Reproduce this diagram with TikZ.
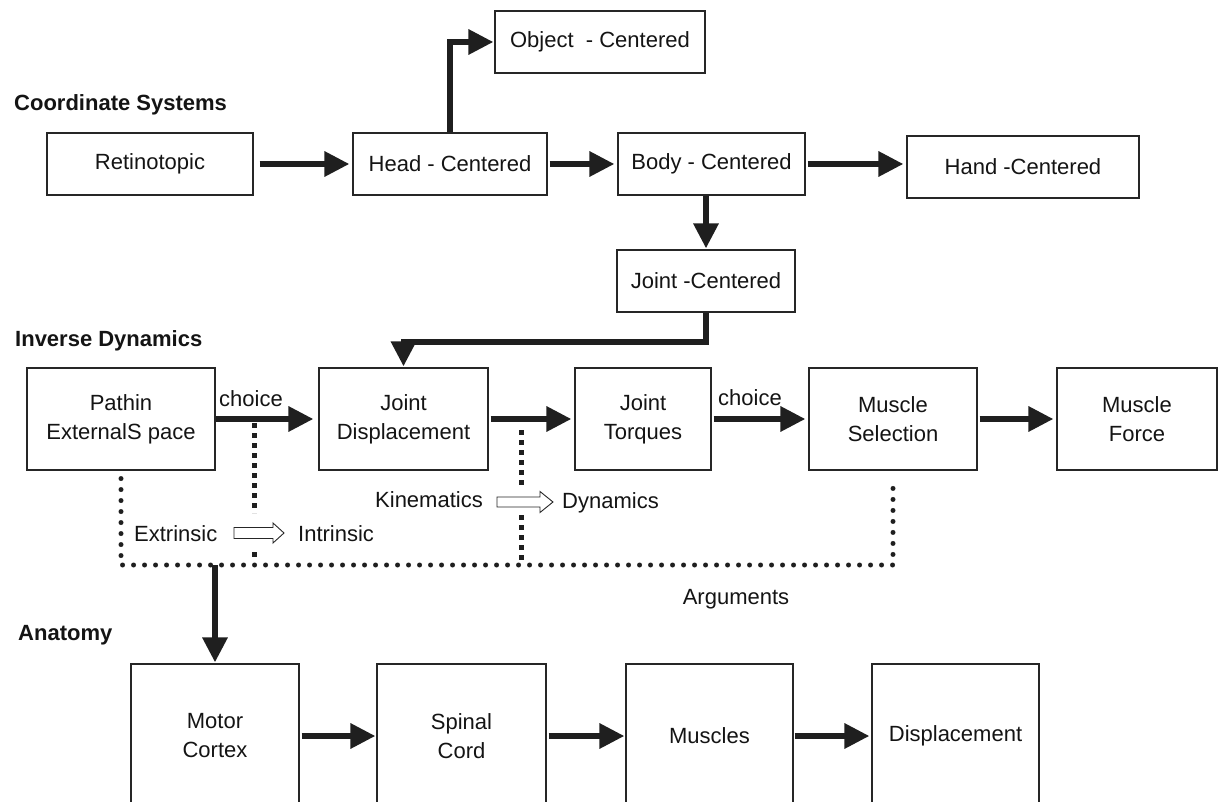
\documentclass[tikz,border=0pt]{standalone}
\usepackage{fontspec}
\setmainfont{Liberation Sans}
\usetikzlibrary{arrows.meta}
\begin{document}
\begin{tikzpicture}[x=1pt,y=-1pt,
  box/.style={draw=black!85, line width=1.1pt, inner sep=0pt, align=center,
    text=black!92, font=\fontsize{22}{29}\selectfont},
  lbl/.style={inner sep=0pt, text=black!92, font=\fontsize{22}{29}\selectfont,
    text height=15.7pt, text depth=0pt},
  seclbl/.style={lbl, font=\fontsize{22}{29}\selectfont\bfseries, anchor=west},
  arr/.style={line width=6pt, draw=black!88,
    -{Triangle[length=25pt,width=24pt]}, shorten <=2pt, shorten >=3pt},
  rdots/.style={line width=5pt, draw=black!88, line cap=round,
    dash pattern=on 0pt off 11pt},
  sdots/.style={line width=5pt, draw=black!88, dash pattern=on 5pt off 5pt},
  hollowA/.pic={\draw[line width=0.9pt, fill=white, draw=black!85]
    (0,5.5) -- (39,5.5) -- (39,10) -- (50,0) -- (39,-10) -- (39,-5.5) -- (0,-5.5) -- cycle;},
  hollowB/.pic={\draw[line width=0.9pt, fill=white, draw=black!85]
    (0,5) -- (43,5) -- (43,10.5) -- (56,0) -- (43,-10.5) -- (43,-5) -- (0,-5) -- cycle;}
]
\useasboundingbox[fill=white] (0,0) rectangle (1219,802);

% section labels
\node[seclbl] (lcs) at (14,103) {Coordinate Systems};
\node[seclbl] (lid) at (15,339) {Inverse Dynamics};
\node[seclbl] (lan) at (18,633) {Anatomy};

% coordinate systems row
\node[box, minimum width=210pt, minimum height=62pt] (obj)  at (600,42)   {Object~~- Centered};
\node[box, minimum width=206pt, minimum height=62pt] (ret)  at (150,164)  {Retinotopic};
\node[box, minimum width=194pt, minimum height=62pt] (head) at (450,164)  {Head - Centered};
\node[box, minimum width=187pt, minimum height=62pt] (body) at (711.5,164){Body - Centered};
\node[box, minimum width=232pt, minimum height=62pt] (hand) at (1023,167) {Hand -Centered};
\node[box, minimum width=178pt, minimum height=62pt] (jc)   at (706,281)  {Joint -Centered};

% inverse dynamics row
\node[box, minimum width=188pt, minimum height=102pt] (path) at (121,419)   {Pathin\\ExternalS pace};
\node[box, minimum width=169pt, minimum height=102pt] (jd)   at (403.5,419) {Joint\\Displacement};
\node[box, minimum width=136pt, minimum height=102pt] (jt)   at (643,419)   {Joint\\Torques};
\node[box, minimum width=168pt, minimum height=102pt] (ms)   at (893,419)   {Muscle\\Selection};
\node[box, minimum width=160pt, minimum height=102pt] (mf)   at (1137,419)  {Muscle\\Force};

% anatomy row (boxes run past the lower edge)
\node[box, minimum width=168pt, minimum height=144pt] (mc)   at (215,736)   {Motor\\Cortex};
\node[box, minimum width=169pt, minimum height=144pt] (sc)   at (461.5,736) {Spinal\\Cord};
\node[box, minimum width=167pt, minimum height=144pt] (mu)   at (709.5,736) {Muscles};
\node[box, minimum width=167pt, minimum height=144pt] (disp) at (955.5,736) {Displacement};

% text labels
\node[lbl] (ch1) at (251,399) {choice};
\node[lbl] (ch2) at (750,398) {choice};
\node[lbl, anchor=west] (extr) at (134,534) {Extrinsic};
\node[lbl, anchor=west] (intr) at (298,534) {Intrinsic};
\node[lbl, anchor=west] (kin)  at (375,500) {Kinematics};
\node[lbl, anchor=west] (dyn)  at (562,501) {Dynamics};
\node[lbl] (args) at (736,597) {Arguments};

% coordinates for the argument lines
\coordinate (argL) at (121,565);
\coordinate (argR) at (893,565);
\coordinate (d1a) at (254,423);
\coordinate (d1b) at (254,513);
\coordinate (d1c) at (254,552);
\coordinate (d1d) at (254,558);
\coordinate (d2a) at (521,430);
\coordinate (d2b) at (521,487);
\coordinate (d2c) at (521,515);
\coordinate (d2d) at (521,560);

% dotted argument lines
\draw[rdots] ([yshift=-8pt]path.south) -- (argL) -- (argR) -- ([yshift=-8pt]ms.south);
\draw[sdots] (d1a) -- (d1b);
\draw[sdots] (d1c) -- (d1d);
\draw[sdots] (d2a) -- (d2b);
\draw[sdots] (d2c) -- (d2d);

% hollow arrows
\pic at (234,533) {hollowA};
\pic at (497,502) {hollowB};

% arrows: coordinate systems
\draw[arr, shorten <=6pt] (ret) -- (head);
\draw[arr, shorten <=0pt, shorten >=1pt] (head.north) |- (obj.west);
\draw[arr] (head) -- (body);
\draw[arr] (body.east) -- (hand.west |- body.east);
\draw[arr, shorten <=0pt, shorten >=1pt] (body.south -| jc.north) -- (jc.north);
\draw[arr, shorten <=0pt, shorten >=1pt] (jc.south) -- ++(0,29) -| (jd.north);

% arrows: inverse dynamics
\draw[arr, shorten <=0pt, shorten >=5pt] (path) -- (jd);
\draw[arr] (jd) -- (jt);
\draw[arr] (jt) -- (ms);
\draw[arr] (ms) -- (mf);

% arrows: anatomy
\draw[arr, shorten <=0pt, shorten >=1pt] (mc.north |- argL) -- (mc.north);
\draw[arr, shorten >=1pt] (mc) -- (sc);
\draw[arr, shorten >=1pt] (sc) -- (mu);
\draw[arr, shorten <=1pt, shorten >=2pt] (mu) -- (disp);
\end{tikzpicture}
\end{document}
